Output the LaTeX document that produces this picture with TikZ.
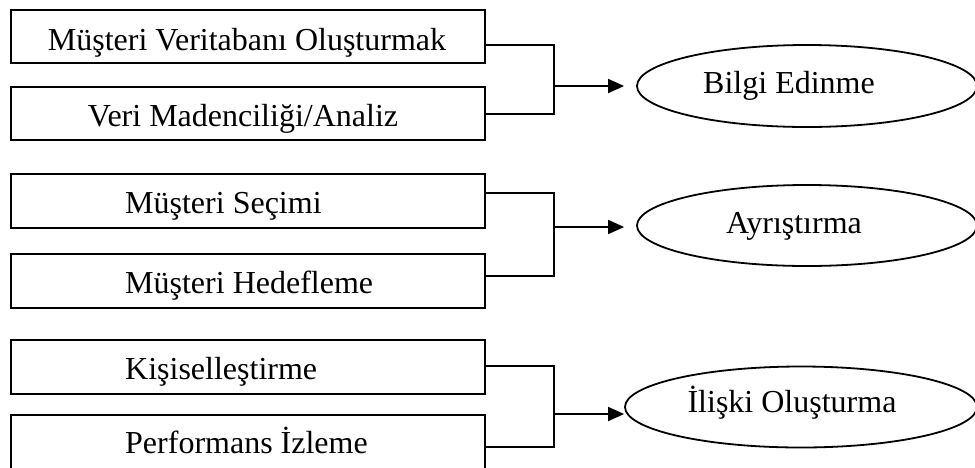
\documentclass[tikz,border=0pt]{standalone}
\usepackage{fontspec}
\setmainfont{Liberation Serif}
\usetikzlibrary{shapes.geometric,arrows.meta}
\begin{document}
\begin{tikzpicture}[x=1pt,y=-1pt,
  box/.style={draw,line width=1.8pt,minimum width=474pt,inner sep=0pt,anchor=north west},
  oval/.style={draw,ellipse,line width=1.8pt,inner sep=0pt},
  lbl/.style={inner sep=0pt,font=\fontsize{32pt}{38pt}\selectfont},
  wire/.style={line width=1.8pt},
  arrow/.style={line width=1.8pt,-{Triangle[length=16pt,width=14pt]}}]
\useasboundingbox (0,0) rectangle (975,467);

% left column of boxes
\node[box,minimum height=53pt] (b1) at (10,9) {};
\node[box,minimum height=53pt] (b2) at (10,86) {};
\node[box,minimum height=54pt] (b3) at (10,173) {};
\node[box,minimum height=54pt] (b4) at (10,253) {};
\node[box,minimum height=54pt] (b5) at (10,339) {};
\node[box,minimum height=60pt] (b6) at (10,414) {};

\node[lbl,anchor=base] (t1) at (247,50) {Müşteri Veritabanı Oluşturmak};
\node[lbl,anchor=base] (t2) at (243,126) {Veri Madenciliği/Analiz};
\node[lbl,anchor=base west] (t3) at (125,213) {Müşteri Seçimi};
\node[lbl,anchor=base west] (t4) at (125,293) {Müşteri Hedefleme};
\node[lbl,anchor=base west] (t5) at (125,379) {Kişiselleştirme};
\node[lbl,anchor=base west] (t6) at (125,453) {Performans İzleme};

% result ellipses
\node[oval,minimum width=340pt,minimum height=82pt] (e1) at (807,86) {};
\node[oval,minimum width=340pt,minimum height=81pt] (e2) at (807,225.5) {};
\node[oval,minimum width=352pt,minimum height=81pt] (e3) at (801,407) {};

\node[lbl,anchor=base] (r1) at (789,93) {Bilgi Edinme};
\node[lbl,anchor=base] (r2) at (794,233) {Ayrıştırma};
\node[lbl,anchor=base] (r3) at (792,412) {İlişki Oluşturma};

% bracket junctions
\coordinate (k1) at (554,86);
\coordinate (k2) at (554,227);
\coordinate (k3) at (554,414);

\draw[wire] (b1.east |- 0,45) -| (k1) |- (b2.east |- 0,114);
\draw[wire] (b3.east |- 0,193) -| (k2) |- (b4.east |- 0,276);
\draw[wire] (b5.east |- 0,366) -| (k3) |- (b6.east |- 0,447);

\draw[arrow,shorten >=12pt] (k1) -- (e1.west);
\draw[arrow,shorten >=12pt] (k2) -- (e2.west |- k2);
\draw[arrow] (k3) -- (e3.west |- k3);
\end{tikzpicture}
\end{document}
